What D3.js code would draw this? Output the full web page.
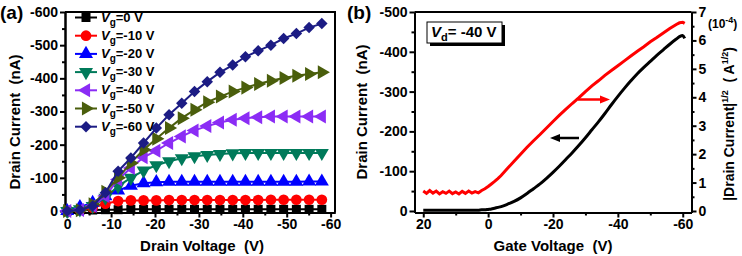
<!DOCTYPE html>
<html>
<head>
<meta charset="utf-8">
<script src="https://cdn.jsdelivr.net/npm/d3@7"></script>
<style>
  body { margin: 0; background: #fff; }
  text { font-family: "Liberation Sans", Arial, sans-serif; font-weight: bold; white-space: pre; }
</style>
</head>
<body>
<div id="outer"></div>
<script>
////////// DATA //////////
// (a) output curves: drain voltage sweep and drain current (nA) per gate voltage
const drainVoltage = [0, -2.9, -5.8, -8.7, -11.6, -14.5, -17.4, -20.3, -23.2, -26.1, -29,
  -31.9, -34.8, -37.7, -40.6, -43.5, -46.4, -49.3, -52.2, -55.1, -58];
const gateLabels = ['0', '-10', '-20', '-30', '-40', '-50', '-60'];
const currentVg0 = [0, -2, -3, -4, -4, -5, -5, -5, -5, -5, -5, -5, -5, -5, -5, -5, -5, -5, -5, -5, -5];
const currentVg10 = [0, -4, -10, -22, -30, -32, -32, -32, -33, -33, -33, -33, -33, -33, -33, -33, -34, -34, -34, -34, -34];
const currentVg20 = [0, -12, -25, -45, -62, -76, -84, -87, -88, -88, -88, -88, -88, -88, -88, -88, -88, -88, -88, -89, -89];
const currentVg30 = [0, -5, -15, -40, -75, -100, -122, -138, -150, -159, -165, -169, -172, -174, -175, -175, -175, -175, -175, -175, -175];
const currentVg40 = [0, -3, -15, -45, -95, -130, -162, -182, -205, -225, -243, -256, -267, -275, -280, -283, -285, -285, -285, -285, -285];
const currentVg50 = [0, -2, -20, -58, -100, -145, -185, -218, -250, -280, -305, -328, -345, -360, -372, -383, -393, -401, -408, -413, -418];
const currentVg60 = [0, -3, -15, -55, -120, -160, -205, -250, -290, -325, -360, -390, -418, -440, -465, -483, -500, -520, -535, -553, -565];

// (b) transfer curve at Vd = -40 V
const gateVoltage = [20, 19, 18, 17, 16, 15, 14, 13, 12, 11, 10, 9, 8, 7, 6, 5, 4, 3, 2, 1, 0, -1, -2, -3, -4,
  -6, -8, -10, -12, -14, -16, -18, -20, -22, -24, -26, -28, -30, -32, -34, -36, -38, -40,
  -42, -44, -46, -48, -50, -52, -54, -56, -58, -59, -60, -60.6];
const transferCurrent = [-2, -2, -2, -2, -2, -2, -2, -2, -2, -2, -2, -2, -2, -2, -2, -2, -2, -2, -3, -3, -4, -5, -7, -9, -11,
  -17, -24, -33, -44, -56, -68, -82, -97, -113, -130, -147, -165, -184, -204, -224, -245, -267, -288,
  -308, -327, -345, -361, -376, -391, -405, -419, -432, -438, -441, -434];
const sqrtCurrent = [0.70, 0.62, 0.72, 0.63, 0.70, 0.60, 0.68, 0.62, 0.70, 0.61, 0.67, 0.60, 0.69, 0.62, 0.70, 0.63, 0.68, 0.64, 0.72, 0.78, 0.86, 0.95, 1.04, 1.14, 1.25,
  1.50, 1.75, 2.00, 2.24, 2.47, 2.69, 2.92, 3.15, 3.37, 3.58, 3.79, 3.99, 4.20, 4.40, 4.58, 4.77, 4.94, 5.11,
  5.28, 5.45, 5.62, 5.78, 5.95, 6.10, 6.26, 6.42, 6.56, 6.62, 6.64, 6.60];

// tick labels
const ticksA_x = [0, -10, -20, -30, -40, -50, -60];
const ticksA_y = [0, -100, -200, -300, -400, -500, -600];
const ticksB_x = [20, 0, -20, -40, -60];
const ticksB_y = [0, -100, -200, -300, -400, -500];
const ticksB_y2 = [0, 1, 2, 3, 4, 5, 6, 7];

////////// Hard Coded Defs //////////
const outputSeries = [currentVg0, currentVg10, currentVg20, currentVg30, currentVg40, currentVg50, currentVg60];
const seriesColors = ['#000000', '#ff0000', '#0000ff', '#007a5a', '#8b2cf5', '#4a5e0c', '#1c1c84'];
// marker shape + rotation, Origin style order
const seriesMarkers = [
  { type: d3.symbolSquare, size: 81, rot: 0 },
  { type: d3.symbolCircle, size: 90, rot: 0 },
  { type: d3.symbolTriangle, size: 85, rot: 0 },
  { type: d3.symbolTriangle, size: 85, rot: 180 },
  { type: d3.symbolTriangle, size: 85, rot: -90 },
  { type: d3.symbolTriangle, size: 85, rot: 90 },
  { type: d3.symbolSquare, size: 66, rot: 45 }
];
const fmt = d => String(d);

const svg = d3.select('#outer').append('svg')
  .attr('width', 742)
  .attr('height', 256);

// draws an axis with major labelled ticks and small minor ticks
const drawAxis = (g, axisFn, scale, major, minor) => {
  g.append('g').call(axisFn(scale).tickValues(minor).tickSize(3).tickSizeOuter(0).tickFormat(''));
  g.append('g').call(axisFn(scale).tickValues(major).tickSize(5).tickSizeOuter(0).tickFormat(fmt).tickPadding(2));
  g.selectAll('path.domain').attr('stroke', '#000').attr('stroke-width', 2);
  g.selectAll('.tick line').attr('stroke', '#000').attr('stroke-width', 2);
  g.selectAll('.tick text').attr('fill', '#000').style('font-size', '14px')
    .style('font-family', '"Liberation Sans", Arial, sans-serif').style('font-weight', 'bold');
};

////////////////////////////////////////////////////////////////
// Panel (a)
////////////////////////////////////////////////////////////////
const xA = d3.scaleLinear().domain([0.5, -61]).range([65, 335]);
const yA = d3.scaleLinear().domain([4.5, -600]).range([212.5, 12]);

const gA = svg.append('g');
drawAxis(gA.append('g').attr('transform', 'translate(0,212.5)'), d3.axisBottom, xA,
  ticksA_x, [-5, -15, -25, -35, -45, -55]);
drawAxis(gA.append('g').attr('transform', 'translate(65,0)'), d3.axisLeft, yA,
  ticksA_y, [-50, -150, -250, -350, -450, -550]);
// frame top & right
gA.append('path')
  .attr('d', `M65,12H335V212.5`)
  .attr('fill', 'none').attr('stroke', '#000').attr('stroke-width', 2);

const lineA = d3.line().x((d, i) => xA(drainVoltage[i])).y(d => yA(d));
outputSeries.forEach((vals, si) => {
  const g = gA.append('g');
  g.append('path')
    .attr('d', lineA(vals))
    .attr('fill', 'none')
    .attr('stroke', seriesColors[si])
    .attr('stroke-width', 2);
  const m = seriesMarkers[si];
  g.selectAll('path.mk').data(vals).join('path')
    .attr('class', 'mk')
    .attr('d', d3.symbol().type(m.type).size(m.size)())
    .attr('transform', (d, i) => `translate(${xA(drainVoltage[i])},${yA(d)}) rotate(${m.rot})`)
    .attr('fill', seriesColors[si]);
});

// legend
const legend = gA.append('g');
gateLabels.forEach((lab, i) => {
  const ly = 17.5 + i * 18.2;
  const m = seriesMarkers[i];
  legend.append('line')
    .attr('x1', 75).attr('x2', 97).attr('y1', ly).attr('y2', ly)
    .attr('stroke', seriesColors[i]).attr('stroke-width', 2);
  legend.append('path')
    .attr('d', d3.symbol().type(m.type).size(m.size)())
    .attr('transform', `translate(86,${ly}) rotate(${m.rot})`)
    .attr('fill', seriesColors[i]);
  const t = legend.append('text')
    .attr('x', 101).attr('y', ly + 4)
    .style('font-size', '13px');
  t.append('tspan').style('font-style', 'italic').text('V');
  t.append('tspan').attr('dy', 4).style('font-size', '10px').text('g');
  t.append('tspan').attr('dy', -4).text(`=${lab} V`);
});

gA.append('text').attr('x', 0).attr('y', 19).style('font-size', '19px').text('(a)');
gA.append('text')
  .attr('transform', 'translate(20,122) rotate(-90)')
  .attr('text-anchor', 'middle')
  .style('font-size', '15px')
  .text('Drain Current  (nA)');
gA.append('text')
  .attr('x', 202).attr('y', 251)
  .attr('text-anchor', 'middle')
  .style('font-size', '15px')
  .text('Drain Voltage  (V)');

////////////////////////////////////////////////////////////////
// Panel (b)
////////////////////////////////////////////////////////////////
const xB = d3.scaleLinear().domain([22.7, -62.7]).range([414.5, 691.5]);
const yB = d3.scaleLinear().domain([3.8, -500]).range([212.5, 12]);
const yB2 = d3.scaleLinear().domain([-0.053, 7]).range([212.5, 12]);

const gB = svg.append('g');
drawAxis(gB.append('g').attr('transform', 'translate(0,212.5)'), d3.axisBottom, xB,
  ticksB_x, [10, -10, -30, -50]);
drawAxis(gB.append('g').attr('transform', 'translate(414.5,0)'), d3.axisLeft, yB,
  ticksB_y, [-50, -150, -250, -350, -450]);
drawAxis(gB.append('g').attr('transform', 'translate(691.5,0)'), d3.axisRight, yB2,
  ticksB_y2, [0.5, 1.5, 2.5, 3.5, 4.5, 5.5, 6.5]);
gB.append('path')
  .attr('d', `M414.5,12H691.5`)
  .attr('fill', 'none').attr('stroke', '#000').attr('stroke-width', 2);

gB.append('path')
  .attr('d', d3.line().curve(d3.curveMonotoneX).x((d, i) => xB(gateVoltage[i])).y(d => yB(d))(transferCurrent))
  .attr('fill', 'none').attr('stroke', '#000').attr('stroke-width', 3);
gB.append('path')
  .attr('d', d3.line().x((d, i) => xB(gateVoltage[i])).y(d => yB2(d))(sqrtCurrent))
  .attr('fill', 'none').attr('stroke', '#ff0000').attr('stroke-width', 3);

// arrows
const arrow = (x1, x2, y, color) => {
  const dir = x2 > x1 ? 1 : -1;
  gB.append('line')
    .attr('x1', x1).attr('x2', x2 - dir * 7).attr('y1', y).attr('y2', y)
    .attr('stroke', color).attr('stroke-width', 2.5);
  gB.append('path')
    .attr('d', `M${x2},${y}L${x2 - dir * 10},${y - 4}L${x2 - dir * 10},${y + 4}Z`)
    .attr('fill', color);
};
arrow(578, 610, 99.5, '#ff0000');
arrow(579, 550, 138, '#000');

// Vd box with shadow
gB.append('rect').attr('x', 430).attr('y', 25).attr('width', 75).attr('height', 21).attr('fill', '#000');
gB.append('rect').attr('x', 427).attr('y', 22).attr('width', 75).attr('height', 21)
  .attr('fill', '#fff').attr('stroke', '#000').attr('stroke-width', 1);
const vt = gB.append('text').attr('x', 431).attr('y', 37).style('font-size', '15px');
vt.append('tspan').style('font-style', 'italic').text('V');
vt.append('tspan').attr('dy', 4).style('font-size', '11px').text('d');
vt.append('tspan').attr('dy', -4).text('= -40 V');

gB.append('text').attr('x', 347).attr('y', 19).style('font-size', '19px').text('(b)');
gB.append('text')
  .attr('transform', 'translate(367,112) rotate(-90)')
  .attr('text-anchor', 'middle')
  .style('font-size', '15px')
  .text('Drain Current  (nA)');
gB.append('text')
  .attr('x', 553).attr('y', 251)
  .attr('text-anchor', 'middle')
  .style('font-size', '15px')
  .text('Gate Voltage  (V)');

const rl = gB.append('text')
  .attr('transform', 'translate(734,124) rotate(-90)')
  .attr('text-anchor', 'middle')
  .style('font-size', '14px');
rl.append('tspan').text('|Drain Current|');
rl.append('tspan').attr('dy', -6).style('font-size', '9px').text('1/2');
rl.append('tspan').attr('dy', 6).text('  ( A');
rl.append('tspan').attr('dy', -6).style('font-size', '9px').text('1/2');
rl.append('tspan').attr('dy', 6).text(')');

const pw = gB.append('text').attr('x', 708).attr('y', 28).style('font-size', '12px');
pw.append('tspan').text('(10');
pw.append('tspan').attr('dy', -5).style('font-size', '9px').text('-4');
pw.append('tspan').attr('dy', 5).text(')');
</script>
</body>
</html>
